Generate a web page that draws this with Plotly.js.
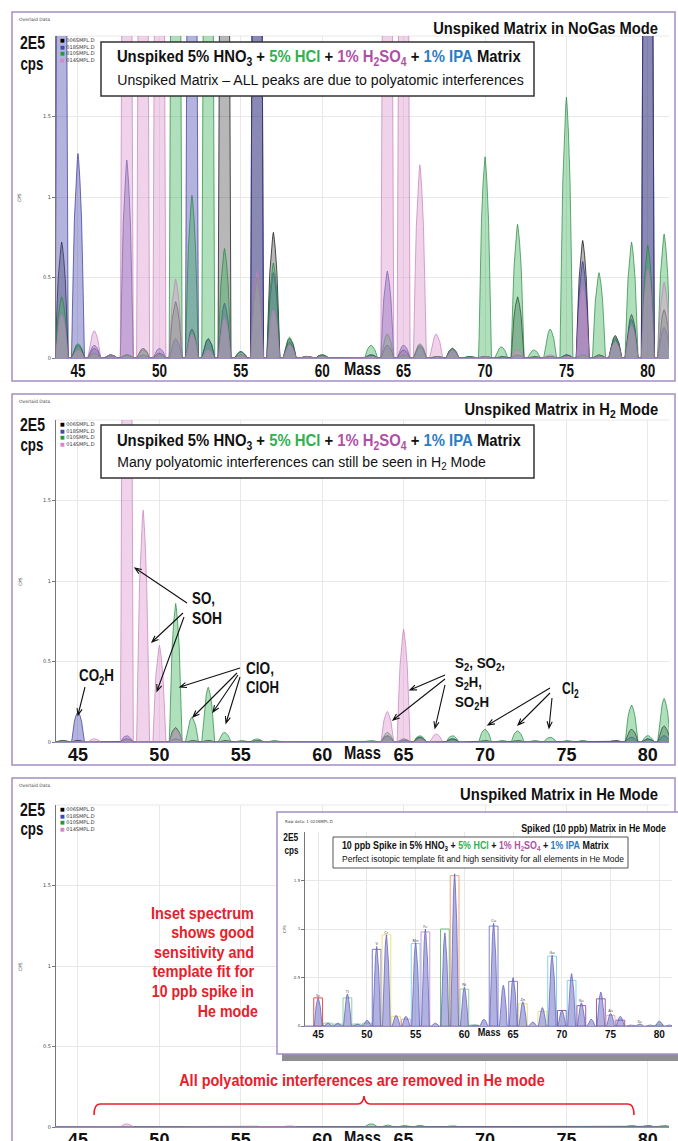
<!DOCTYPE html>
<html><head><meta charset="utf-8">
<script src="https://cdn.plot.ly/plotly-3.0.1.min.js"></script>
<style>html,body{margin:0;padding:0;background:#fff;}#chart{width:678px;height:1141px;}</style>
</head><body><div id="chart"></div>
<script>
// ---------------- DATA ----------------
const masses = [44,45,46,47,48,49,50,51,52,53,54,55,56,57,58,59,60,61,62,63,64,65,66,67,68,69,70,71,72,73,74,75,76,77,78,79,80,81];
const seriesNames = ['006SMPL.D','018SMPL.D','010SMPL.D','014SMPL.D'];
// NoGas mode (units of 1E5 cps; values above 2 are off-scale)
const noGasBlack = [0.72,0.08,0.06,0.02,0.02,0.06,0.03,0.35,0.18,0.12, 6,0.04,6,0.78,0.12,0.01,0.02,0,0,0.02, 0.08,0.05,0.08,0.01,0.06,0.01,0.01,0.01,0.38,0.01, 0.01,0.02,0.73,0.02,0.14,0.27,6,0.30];
const noGasBlue  = [6,1.27,0.08,0.02,1.23,0.02,0.06,0.12,6,0.12, 0.34,0.02,6,0.53,0.10,0.01,0.01,0,0,0.02, 0.54,0.08,0.07,0.01,0.05,0,0.01,0,0.02,0, 0.01,0.02,0.60,0.01,0.12,0.24,6,0.19];
const noGasGreen = [0.38,0.09,0.03,0.01,0.02,0.05,0.02,6,1.01,6, 0.68,0.04,0.5,0.59,0.13,0.01,0.02,0,0,0.08, 0.15,0.02,0.09,0.01,0.06,0.01,1.25,0.07,0.83,0.05, 0.18,1.62,0.02,0.53,0.13,0.72,0.7,0.77];
const noGasPink  = [0.27,0.05,0.17,0.02,6,6,6,0.49,0.15,0.05, 0.25,0.02,0.54,0.30,0.08,0.01,0.01,0,0,0.01, 6,6,1.20,0.15,0.05,0,0.01,0,0.05,0, 0.02,0.01,0.45,0.01,0.10,0.20,0.55,0.47];
// H2 mode
const h2Black = [0.01,0.01,0,0,0.02,0,0,0.09,0.01,0.01, 0.01,0,0.01,0,0,0,0,0,0,0, 0.04,0.01,0.03,0,0.02,0,0.01,0,0.01,0, 0,0,0,0,0.01,0.08,0.02,0.10];
const h2Blue  = [0,0.19,0,0,0.04,0,0,0.02,0,0, 0,0,0,0,0,0,0,0,0,0, 0.04,0.02,0.03,0,0.02,0,0,0,0,0, 0,0,0,0,0,0.03,0.02,0.04];
const h2Green = [0.01,0,0,0,0,0,0,0.86,0.155,0.34, 0.06,0.01,0.02,0.01,0,0,0,0,0,0.01, 0.06,0.01,0.04,0,0.04,0,0.08,0.01,0.07,0.01, 0.03,0.01,0.01,0,0,0.23,0.04,0.27];
const h2Pink  = [0,0,0.02,0,6,1.44,0.60,0.08,0,0, 0,0,0,0,0,0,0,0,0,0, 0.19,0.70,0.02,0.05,0,0,0,0,0,0, 0,0,0,0,0,0,0,0];
// He mode
const heBlack = [0,0,0,0,0,0,0,0,0,0, 0,0,0,0,0,0,0,0,0,0, 0,0,0,0,0,0,0,0,0,0, 0,0,0,0,0,0,0,0];
const heBlue  = [0,0,0,0,0,0,0,0,0,0, 0,0,0,0,0,0,0,0,0,0, 0,0,0,0,0,0,0,0,0,0, 0,0,0,0,0,0,0.01,0];
const heGreen = [0,0,0,0,0,0,0,0,0,0, 0,0,0.005,0,0,0,0,0,0,0.02, 0.012,0.01,0.01,0,0.008,0,0,0,0,0, 0,0,0,0,0,0.01,0,0.01];
const hePink  = [0,0,0,0,0.02,0,0,0,0,0, 0,0,0,0,0.008,0,0,0,0,0, 0,0,0,0,0,0,0,0,0,0, 0,0,0,0,0,0,0,0];
// Inset: spiked 10 ppb in He mode
const insetSpike = [0,0.29,0.03,0.03,0.33,0.02,0.06,0.82,0.94,0.11, 0.10,0.86,1.00,0.03,0.96,1.57,0.40,0.01,0.07,1.06, 0.42,0.50,0.25,0.04,0.19,0.73,0.16,0.54,0.24,0.07, 0.35,0.13,0.10,0.01,0.02,0.01,0.05,0.01];
const tmplMass   = [45,46,47,48,49,50,51,52,53,54,55,56,58,59,60,61,63,65,66,68,69,70,71,72,74,75,76,80];
const tmplHeight = [0.29,0.03,0.02,0.29,0.02,0.03,0.79,0.94,0.10,0.07,0.85,0.97,1.00,1.55,0.38,0.01,1.03,0.46,0.23,0.15,0.72,0.16,0.47,0.21,0.28,0.11,0.06,0.01];
const tmplColor  = ['#e8504a','#8fd19e','#8fd19e','#8fd19e','#8fd19e','#8fd19e','#7b7bc8','#ece27a','#ece27a','#e0a0d0','#86d4ea','#c99ad6','#6fbf7a','#f3a27f','#8fd19e','#8fd19e','#8484d0','#8484d0','#ece27a','#ece27a','#86d4ea','#9a5aa8','#86d4ea','#9a5aa8','#9a5aa8','#f0b0c0','#9a5aa8','#8fd19e'];
const elemMass  = [45,48,51,52,55,56,60,63,66,69,72,75,78];
const elemLabel = ['Sc','Ti','V','Cr','Mn','Fe','Ni','Cu','Zn','Ga','Ge','As','Se'];
const tickMass = [45,50,55,60,65,70,75,80];
const yTicks = [0,0.5,1,1.5];
const yTickText = ['0','0.5','1','1.5'];

// ---------------- HELPERS ----------------
const W = 678, H = 1141;
const FONT = "'Liberation Sans',Arial,sans-serif";
const PURPLE = '#a58dc8';
const XR = [43.65, 81.3];
const OFF = [-0.40,-0.36,-0.30,-0.22,-0.12,-0.04,0,0.04,0.12,0.22,0.30,0.36,0.40];
const SHP = [0,0.12,0.40,0.68,0.87,0.97,1,0.97,0.87,0.68,0.40,0.12,0];
function profile(ms, vals){
  const xs=[], ys=[];
  ms.forEach((m,i)=>{ OFF.forEach((o,k)=>{ xs.push(m+o); ys.push(vals[i]*SHP[k]); }); });
  return {xs, ys};
}
const STY = [
  {fill:'rgba(55,55,60,0.36)',  line:'rgba(0,0,0,0.85)'},
  {fill:'rgba(75,75,175,0.42)', line:'rgba(45,45,150,0.85)'},
  {fill:'rgba(55,175,85,0.40)', line:'rgba(30,130,60,0.85)'},
  {fill:'rgba(220,150,205,0.42)',line:'rgba(195,120,185,0.85)'}
];
const traces = [];
function addPanel(sets, xa, ya){
  sets.forEach((vals,i)=>{
    const p = profile(masses, vals);
    traces.push({type:'scatter', mode:'lines', x:p.xs, y:p.ys, xaxis:xa, yaxis:ya,
      fill:'tozeroy', fillcolor:STY[i].fill, line:{color:STY[i].line, width:0.8},
      name:seriesNames[i], hoverinfo:'skip', showlegend:false});
  });
}
addPanel([noGasBlack,noGasBlue,noGasGreen,noGasPink],'x','y');
addPanel([h2Black,h2Blue,h2Green,h2Pink],'x2','y2');
addPanel([heBlack,heBlue,heGreen,hePink],'x3','y3');
traces.push({type:'scatter', x:[], y:[], xaxis:'x4', yaxis:'y4', hoverinfo:'skip', showlegend:false});
const ip = profile(masses, insetSpike);
traces.push({type:'bar', x:tmplMass, y:tmplHeight, width:0.9, xaxis:'x5', yaxis:'y5',
  marker:{color:'rgba(0,0,0,0)', line:{color:tmplColor, width:1}}, hoverinfo:'skip', showlegend:false});
traces.push({type:'scatter', mode:'lines', x:ip.xs, y:ip.ys, xaxis:'x5', yaxis:'y5', fill:'tozeroy',
  fillcolor:'rgba(115,115,200,0.55)', line:{color:'rgba(90,90,185,0.9)', width:0.8}, hoverinfo:'skip', showlegend:false});
traces.push({type:'scatter', mode:'text', x:elemMass, y:elemMass.map(m=>insetSpike[masses.indexOf(m)]),
  text:elemLabel, textposition:'top center', textfont:{size:4, color:'#333'}, xaxis:'x5', yaxis:'y5', hoverinfo:'skip', showlegend:false});

function xax(dom, anchor, size, standoff){
  return {domain:[dom[0]/W, dom[1]/W], anchor, range:XR, tickvals:tickMass, showgrid:true, gridcolor:'#e8e8e8', gridwidth:1,
    zeroline:false, showline:true, linecolor:'#9c8cbc', linewidth:1, ticks:'', ticklabelstandoff:standoff,
    tickfont:{family:FONT, size:size, color:'#111', weight:'bold'}, fixedrange:true};
}
function yax(top, bot, anchor, fsz){
  return {domain:[1-bot/H, 1-top/H], anchor, range:[0,2], tickvals:yTicks, ticktext:yTickText, showgrid:true, gridcolor:'#e8e8e8',
    zeroline:false, showline:true, linecolor:'#777', linewidth:1, ticks:'outside', ticklen:3, tickcolor:'#777',
    tickfont:{family:'DejaVu Sans', size:fsz, color:'#444'}, fixedrange:true};
}
const layout = {
  width:W, height:H, margin:{l:0,r:0,t:0,b:0}, paper_bgcolor:'#fff', plot_bgcolor:'#fff', showlegend:false,
  xaxis: xax([56,669],'y',18,-4), yaxis: yax(36,358,'x',5),
  xaxis2: xax([56,669],'y2',18,-4), yaxis2: yax(420,742,'x2',5),
  xaxis3: xax([56,669],'y3',18,-4), yaxis3: yax(805,1127,'x3',5),
  xaxis4: {domain:[277/W,1], anchor:'y4', visible:false, range:[0,1], fixedrange:true},
  yaxis4: {domain:[1-1054/H, 1-812/H], anchor:'x4', visible:false, range:[0,1], fixedrange:true},
  xaxis5: xax([305,672],'y5',10,-1), yaxis5: yax(832,1026,'x5',4),
  shapes:[], annotations:[]
};
const S = layout.shapes, A = layout.annotations;
const WT = {};   // target text widths (px) for condensed rendering
const fx = x=>x/W, fy = y=>1-y/H;
function rect(x0,y0,x1,y1,o){ S.push(Object.assign({type:'rect', xref:'paper', yref:'paper', x0:fx(x0), x1:fx(x1), y0:fy(y0), y1:fy(y1), layer:'above'}, o)); }
function path(d,o){ S.push(Object.assign({type:'path', xref:'paper', yref:'paper', path:d, layer:'above'}, o)); }
function P(x,y){ return fx(x).toFixed(5)+','+fy(y).toFixed(5); }
function T(x,y,text,o,w){
  A.push(Object.assign({xref:'paper', yref:'paper', x:fx(x), y:fy(y), text, showarrow:false, xanchor:'left', yanchor:'middle',
    font:{family:FONT, size:17, color:'#111', weight:'bold'}}, o||{}));
  if(w) WT[A.length-1] = w;
}
// top gridline at 2E5 for each main panel and inset
[[36,56,669],[420,56,669],[805,56,669],[832,305,672]].forEach(g=>{
  S.push({type:'line', xref:'paper', yref:'paper', x0:fx(g[1]), x1:fx(g[2]), y0:fy(g[0]), y1:fy(g[0]), layer:'below', line:{color:'#e8e8e8', width:1}});
});

// panel borders
rect(12,12,675,381,{line:{color:PURPLE,width:1.5}});
rect(12,394,675,765,{line:{color:PURPLE,width:1.5}});
path('M'+P(12,1145)+' L'+P(12,778)+' L'+P(675,778)+' L'+P(675,812),{line:{color:PURPLE,width:1.5}});

const GREEN='#2fb14f', MAG='#b04fa6', BLUE='#2b7cc1';
const line1 = 'Unspiked 5% HNO<sub>3</sub> + <span style="color:'+GREEN+'">5% HCl</span> + <span style="color:'+MAG+'">1% H<sub>2</sub>SO<sub>4</sub></span> + <span style="color:'+BLUE+'">1% IPA</span> Matrix';
const panels = [
  {top:12, title:'Unspiked Matrix in NoGas Mode', tw:225, sub:'Unspiked Matrix – ALL peaks are due to polyatomic interferences', sw:407, box:[42,96], l1:58, l2:80, pt:36, pb:358},
  {top:394, title:'Unspiked Matrix in H<sub>2</sub> Mode', tw:194, sub:'Many polyatomic interferences can still be seen in H<sub>2</sub> Mode', sw:369, box:[425,478], l1:442, l2:463, pt:420, pb:742},
  {top:778, title:'Unspiked Matrix in He Mode', tw:198, pt:805, pb:1127}
];
panels.forEach((p,i)=>{
  T(17, p.top+7, 'Overlaid Data', {font:{family:'DejaVu Sans', size:4.5, color:'#444'}});
  T(660, p.top+16, p.title, {xanchor:'right', font:{family:FONT, size:16.5, color:'#111', weight:'bold'}}, p.tw);
  T(32, p.top+31, '2E5', {xanchor:'center', font:{family:FONT, size:18.5, color:'#111', weight:'bold'}}, 25);
  T(32, p.top+51, 'cps', {xanchor:'center', font:{family:FONT, size:18.5, color:'#111', weight:'bold'}}, 23);
  T(20, p.pt+162, 'CPS', {xanchor:'center', textangle:-90, font:{family:'DejaVu Sans', size:4.5, color:'#444'}});
  const leg = seriesNames.map((n,k)=>'<span style="color:'+['#000','#3b4cb0','#1e9a3c','#d08ac8'][k]+'">■</span> '+n).join('<br>');
  A.push({xref:'paper', yref:'paper', x:fx(58), y:fy(p.pt-1), xanchor:'left', yanchor:'top', showarrow:false, align:'left',
    text:leg, font:{family:'DejaVu Sans', size:5, color:'#333'}});
  A.push({xref:['x','x2','x3'][i], yref:'paper', x:62.5, y:fy(p.pb+11), text:'Mass', showarrow:false, xanchor:'center', yanchor:'middle',
    font:{family:FONT, size:18, color:'#111', weight:'bold'}});
  WT[A.length-1] = 37;
  if(p.box){
    rect(101,p.box[0],534,p.box[1],{fillcolor:'#fff', line:{color:'#333',width:1.5}});
    T(115, p.l1, line1, {font:{family:FONT, size:17, color:'#111', weight:'bold'}}, 404);
    T(115, p.l2, p.sub, {font:{family:FONT, size:14.5, color:'#111', weight:'normal'}}, p.sw);
  }
});

// panel 2 labels
const LF = {font:{family:FONT, size:17, color:'#111', weight:'bold'}};
const LS = {font:{family:FONT, size:15.5, color:'#111', weight:'bold'}};
T(190, 598, 'SO,', LF, 23); T(190, 618, 'SOH', LF, 30);
T(244, 668, 'ClO,', LF, 28); T(244, 687, 'ClOH', LF, 33);
T(77, 677, 'CO<sub>2</sub>H', LF, 35);
T(453, 663, 'S<sub>2</sub>, SO<sub>2</sub>,', LS, 50); T(453, 682, 'S<sub>2</sub>H,', LS, 27); T(453, 702, 'SO<sub>2</sub>H', LS, 34);
T(560, 690, 'Cl<sub>2</sub>', LF, 17);
// arrows (tail x, tail y, head x, head y in px)
const arrows = [
  [187,603,135,568],[183,613,152,642],[184,617,157,691],
  [240,668,180,687],[237,673,193,717],[238,675,213,712],[240,677,226,723],
  [85,687,78,715],
  [445,675,410,690],[445,679,393,720],[445,685,435,728],
  [550,688,488,725],[550,693,518,725],[552,698,549,728]
];
arrows.forEach(a=>{
  const vx=a[2]-a[0], vy=a[3]-a[1], L=Math.hypot(vx,vy), ux=vx/L, uy=vy/L;
  const hl=7, ang=0.38;
  const c=Math.cos(ang), s=Math.sin(ang);
  const b1=[a[2]-hl*(ux*c - uy*s), a[3]-hl*(uy*c + ux*s)];
  const b2=[a[2]-hl*(ux*c + uy*s), a[3]-hl*(uy*c - ux*s)];
  path('M'+P(a[0],a[1])+' L'+P(a[2],a[3])+' M'+P(b1[0],b1[1])+' L'+P(a[2],a[3])+' L'+P(b2[0],b2[1]), {line:{color:'#111', width:1.1}});
});

// panel 3 red text and bracket
const RED = '#e8202a';
const redLines = ['Inset spectrum','shows good','sensitivity and','template fit for','10 ppb spike in','He mode'];
const redW = [103,83,100,102,102,60];
redLines.forEach((t,i)=>{
  T(i===5?260:256, 913+i*19.6, t, {xanchor:'right', font:{family:FONT, size:17, color:RED, weight:'bold'}}, redW[i]);
});
T(362, 1080, 'All polyatomic interferences are removed in He mode', {xanchor:'center', font:{family:FONT, size:17, color:RED, weight:'bold'}}, 366);
path('M'+P(94,1115)+' Q'+P(94,1104)+' '+P(100,1104)+' L'+P(358,1104)+' Q'+P(363,1104)+' '+P(364,1096)+' Q'+P(365,1104)+' '+P(370,1104)+' L'+P(628,1104)+' Q'+P(634,1104)+' '+P(634,1115),
  {line:{color:RED,width:1.6}});

// inset decorations
rect(282,1054,690,1061,{fillcolor:'#8e8e93', line:{width:0}});
rect(277,812,690,1054,{line:{color:PURPLE,width:1.5}});
const IF = (sz,wt)=>({font:{family:FONT, size:sz, color:'#111', weight:wt||'bold'}});
T(668, 828, 'Spiked (10 ppb) Matrix in He Mode', Object.assign({xanchor:'right'}, IF(11)), 145);
T(291, 837, '2E5', Object.assign({xanchor:'center'}, IF(11)), 15);
T(291, 850, 'cps', Object.assign({xanchor:'center'}, IF(11)), 14);
T(283, 821, 'Raw data: 1 023SMPL.D', {font:{family:'DejaVu Sans', size:4, color:'#444'}});
T(284, 929, 'CPS', {xanchor:'center', textangle:-90, font:{family:'DejaVu Sans', size:4, color:'#444'}});
rect(333,837,628,868,{fillcolor:'#fff', line:{color:'#555',width:1}});
const il1 = '10 ppb Spike in 5% HNO<sub>3</sub> + <span style="color:'+GREEN+'">5% HCl</span> + <span style="color:'+MAG+'">1% H<sub>2</sub>SO<sub>4</sub></span> + <span style="color:'+BLUE+'">1% IPA</span> Matrix';
T(340, 846, il1, IF(10), 267);
T(340, 859, 'Perfect isotopic template fit and high sensitivity for all elements in He Mode', IF(9,'normal'), 282);
A.push({xref:'x5', yref:'paper', x:62.5, y:fy(1032), text:'Mass', showarrow:false, xanchor:'center', yanchor:'middle',
  font:{family:FONT, size:10.5, color:'#111', weight:'bold'}});
WT[A.length-1] = 23;

function squeezeEl(t, target, anchor){
  const bb = t.getBBox();
  if(!bb.width) return;
  const s = target / bb.width;
  const cx = anchor==='right' ? bb.x+bb.width : anchor==='center' ? bb.x+bb.width/2 : bb.x;
  const prev = t.getAttribute('transform') || '';
  t.setAttribute('transform', prev+' translate('+cx+',0) scale('+s+',1) translate('+(-cx)+',0)');
}
function squeeze(){
  Object.keys(WT).forEach(k=>{
    const t = document.querySelector('g.annotation[data-index="'+k+'"] text.annotation-text');
    if(t) squeezeEl(t, WT[k], A[k].xanchor);
  });
  ['xy','x2y2','x3y3'].forEach(sp=>document.querySelectorAll('.subplot.'+sp+' .xtick text').forEach(t=>squeezeEl(t,15,'center')));
  document.querySelectorAll('.subplot.x5y5 .xtick text').forEach(t=>squeezeEl(t,9,'center'));
}
Plotly.newPlot('chart', traces, layout, {staticPlot:true, displayModeBar:false}).then(squeeze);
</script></body></html>
